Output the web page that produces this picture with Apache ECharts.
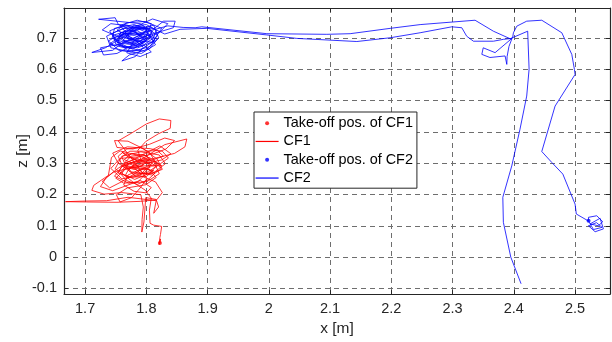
<!DOCTYPE html>
<html>
<head>
<meta charset="utf-8">
<script src="https://cdn.jsdelivr.net/npm/echarts@6/dist/echarts.min.js"></script>
<style>html,body{margin:0;padding:0;background:#fff}#c{width:612px;height:342px}</style>
</head>
<body>
<div id="c"></div>
<script>
// ---- data ----
const takeoffCF1 = [[1.822, 0.045]];
const takeoffCF2 = [[2.522, 0.116]];

const cf1Path = [
[1.822,0.045],[1.823,0.058],[1.821,0.040],[1.822,0.062],[1.823,0.072],[1.825,0.098],[1.812,0.102],[1.806,0.108],
[1.805,0.150],[1.808,0.188],[1.798,0.214],[1.779,0.238],[1.760,0.268],[1.772,0.300],[1.799,0.312],[1.816,0.290],
[1.801,0.258],[1.770,0.254],[1.749,0.282],[1.760,0.322],[1.791,0.336],[1.821,0.326],[1.831,0.298],[1.811,0.268],
[1.779,0.266],[1.754,0.300],[1.745,0.332],[1.769,0.352],[1.806,0.346],[1.826,0.338],[1.836,0.316],[1.820,0.294],
[1.789,0.290],[1.764,0.311],[1.776,0.331],[1.801,0.323],[1.810,0.300],[1.789,0.276],[1.760,0.241],[1.740,0.221],
[1.728,0.242],[1.746,0.271],[1.776,0.286],[1.804,0.281],[1.816,0.254],[1.799,0.231],[1.769,0.221],[1.751,0.199],
[1.757,0.176],[1.776,0.190],[1.790,0.221],[1.801,0.251],[1.781,0.301],[1.754,0.371],[1.776,0.396],[1.800,0.425],
[1.821,0.441],[1.840,0.436],[1.839,0.411],[1.820,0.394],[1.799,0.369],[1.786,0.341],[1.791,0.311],[1.830,0.359],
[1.866,0.377],[1.863,0.352],[1.846,0.331],[1.815,0.316],[1.786,0.306],[1.761,0.291],[1.748,0.258],[1.771,0.236],
[1.801,0.241],[1.821,0.266],[1.812,0.306],[1.784,0.326],[1.757,0.339],[1.743,0.318],[1.738,0.261],[1.714,0.229],
[1.711,0.213],[1.731,0.201],[1.760,0.206],[1.791,0.199],[1.795,0.160],[1.793,0.120],[1.7926,0.080],[1.796,0.112],
[1.799,0.190],[1.816,0.184],[1.820,0.160],[1.812,0.140],[1.816,0.180],[1.770,0.191],[1.735,0.180],[1.700,0.179],
[1.668,0.177],[1.702,0.176],[1.752,0.175],[1.790,0.178],[1.817,0.183],[1.826,0.206],[1.815,0.240],[1.790,0.260],
[1.760,0.250],[1.742,0.283],[1.757,0.315],[1.788,0.320],[1.812,0.330],[1.832,0.345],[1.846,0.372],[1.830,0.380],
[1.805,0.360],[1.778,0.345],[1.752,0.350],[1.748,0.372],[1.770,0.370],[1.795,0.346],[1.818,0.312],[1.826,0.280],
[1.805,0.265],[1.776,0.272],[1.762,0.298],[1.785,0.315],[1.808,0.295],[1.797,0.270],[1.773,0.256],[1.754,0.268],
[1.760,0.290],[1.780,0.280],[1.795,0.294],[1.776,0.318],[1.760,0.335],[1.770,0.320],[1.800,0.300],[1.825,0.310],
[1.840,0.330],[1.822,0.355],[1.797,0.330],[1.772,0.305],[1.755,0.285],[1.735,0.255],[1.725,0.225],[1.745,0.212],
[1.770,0.230],[1.790,0.245],[1.808,0.222],[1.800,0.205],[1.780,0.210],[1.763,0.230],[1.770,0.262],[1.792,0.282],
[1.812,0.276],[1.798,0.262],[1.781,0.248],[1.766,0.262],[1.772,0.284],[1.793,0.292],[1.806,0.312],[1.796,0.328],
[1.775,0.322],[1.765,0.302],[1.780,0.292],[1.799,0.285],[1.814,0.268],[1.802,0.246],[1.785,0.232],[1.768,0.244],
[1.757,0.268],[1.768,0.296],[1.786,0.310],[1.805,0.318],[1.818,0.300],[1.824,0.282],[1.810,0.262],[1.790,0.268],
[1.777,0.290],[1.789,0.306],[1.810,0.310],[1.828,0.322],[1.818,0.340],[1.795,0.338],[1.773,0.338],[1.760,0.320],
[1.766,0.292],[1.787,0.276],[1.806,0.286],[1.800,0.305],[1.781,0.300],[1.771,0.276],[1.783,0.258],[1.803,0.272],
[1.818,0.292],[1.805,0.335],[1.790,0.350],[1.768,0.345],[1.754,0.322],[1.760,0.295],[1.785,0.285],[1.797,0.262],
[1.786,0.240],[1.763,0.236],[1.750,0.252],[1.765,0.280],[1.792,0.298],[1.815,0.305],[1.825,0.292],[1.803,0.290],
[1.790,0.262]
];

const cf2Path = [
[2.522,0.116],[2.5218,0.127],[2.5354,0.132],[2.5452,0.113],[2.538,0.100],[2.5245,0.106],[2.5408,0.124],[2.5462,0.090],
[2.5327,0.081],[2.5218,0.100],[2.535,0.110],[2.544,0.095],[2.530,0.088],[2.522,0.115],[2.502,0.1376],[2.500,0.169],
[2.480,0.265],[2.462,0.302],[2.4456,0.337],[2.4673,0.482],[2.500,0.583],[2.4989,0.599],[2.4946,0.647],[2.4783,0.716],
[2.4456,0.756],[2.421,0.753],[2.4048,0.737],[2.3993,0.716],[2.398,0.700],
[2.3694,0.6525],[2.350,0.668],[2.3477,0.647],[2.361,0.637],[2.3857,0.642],[2.3885,0.615],[2.389,0.640],[2.392,0.672],[2.397,0.698],
[2.383,0.695],[2.3666,0.689],[2.334,0.689],[2.323,0.705],[2.315,0.732],[2.2987,0.735],[2.247,0.716],[2.198,0.700],
[2.1436,0.688],[2.0456,0.698],[1.9967,0.709],[1.8987,0.730],[1.855,0.727],
[1.830,0.712],[1.805,0.735],[1.772,0.718],[1.748,0.700],[1.760,0.672],[1.790,0.660],[1.812,0.690],[1.798,0.725],
[1.765,0.742],[1.740,0.722],[1.752,0.685],[1.783,0.676],[1.808,0.702],[1.795,0.738],[1.760,0.728],[1.735,0.705],
[1.742,0.668],[1.775,0.655],[1.806,0.672],[1.818,0.708],[1.790,0.745],[1.722,0.759],[1.749,0.764],[1.754,0.743],
[1.780,0.720],[1.800,0.690],[1.778,0.664],[1.750,0.680],[1.745,0.715],[1.770,0.735],[1.812,0.728],[1.828,0.753],
[1.847,0.753],[1.844,0.732],[1.815,0.715],[1.790,0.700],[1.765,0.690],[1.745,0.660],[1.711,0.653],[1.733,0.668],
[1.760,0.700],[1.785,0.728],[1.812,0.740],[1.820,0.700],[1.805,0.665],[1.772,0.645],[1.760,0.626],[1.782,0.640],
[1.795,0.670],[1.776,0.700],[1.752,0.724],[1.768,0.748],[1.798,0.752],[1.825,0.730],[1.810,0.686],[1.783,0.690],
[1.758,0.712],[1.738,0.690],[1.755,0.660],[1.792,0.650],[1.815,0.678],[1.802,0.712],[1.770,0.708],[1.757,0.740],
[1.785,0.756],[1.808,0.745],[1.800,0.705],[1.770,0.682],[1.744,0.698],[1.748,0.730],[1.780,0.742],[1.810,0.720],
[1.795,0.682],[1.765,0.668],[1.740,0.680],[1.762,0.712],[1.793,0.716],[1.818,0.695],[1.797,0.658],[1.768,0.660],
[1.752,0.696],[1.775,0.730],[1.806,0.728],[1.814,0.690],[1.786,0.668],[1.756,0.675],[1.746,0.708],[1.773,0.725],
[1.800,0.700],[1.788,0.672],[1.762,0.692],[1.782,0.735],[1.810,0.760],[1.835,0.745],[1.822,0.718],[1.796,0.695],
[1.773,0.672],[1.752,0.650],[1.730,0.645],[1.725,0.668],[1.758,0.680],[1.790,0.708],[1.770,0.738],[1.742,0.745],
[1.728,0.725],[1.752,0.705],[1.788,0.690],[1.808,0.655],[1.790,0.640],[1.768,0.652],[1.780,0.690],[1.800,0.722],
[1.792,0.712],[1.775,0.695],[1.760,0.705],[1.768,0.722],[1.788,0.728],[1.802,0.715],[1.796,0.696],[1.780,0.684],
[1.764,0.690],[1.756,0.712],[1.772,0.730],[1.794,0.734],[1.808,0.716],[1.804,0.694],[1.786,0.680],[1.768,0.684],
[1.756,0.698],[1.764,0.720],[1.786,0.722],[1.798,0.706],[1.790,0.688],[1.772,0.692],[1.766,0.712],[1.782,0.716],
[1.795,0.700],[1.782,0.695],[1.770,0.705],[1.778,0.738],[1.800,0.742],[1.816,0.725],[1.812,0.700],[1.795,0.676],
[1.772,0.668],[1.754,0.686],[1.758,0.718],[1.780,0.708],
[1.835,0.738],[1.860,0.733],[1.8796,0.732],
[1.8905,0.735],[1.9967,0.713],[2.0946,0.711],[2.1327,0.713],[2.198,0.730],[2.247,0.742],[2.3367,0.756],[2.3666,0.721],
[2.3939,0.697],[2.4226,0.721],[2.4249,0.600],[2.421,0.514],[2.410,0.408],[2.3966,0.291],[2.382,0.191],[2.3829,0.111],
[2.395,0.0],[2.4118,-0.085]
];

const seriesNames = ['Take-off pos. of CF1', 'CF1', 'Take-off pos. of CF2', 'CF2'];
const xLabel = 'x [m]';
const yLabel = 'z [m]';
const xRange = [1.6655, 2.557];
const yRange = [-0.118, 0.795];

// ---- chart ----
const FONT = '"Liberation Sans", Arial, Helvetica, sans-serif';
const AX = '#262626';
const RED = '#ff0000';
const BLUE = '#0000ff';
const chart = echarts.init(document.getElementById('c'), null, {renderer: 'canvas'});

function axisCommon(showLabels) {
  return {
    type: 'value',
    splitNumber: 9,
    minInterval: 0.1,
    maxInterval: 0.1,
    axisLine: {show: true, onZero: false, lineStyle: {color: AX, width: 1.2}},
    axisTick: {show: true, inside: true, length: 4, lineStyle: {color: AX, width: 1}},
    axisLabel: {show: showLabels, color: AX, fontSize: 14.5, fontFamily: FONT, margin: 7,
                showMinLabel: false, showMaxLabel: false},
    splitLine: {show: false}
  };
}

const xBottom = Object.assign(axisCommon(true), {
  position: 'bottom', min: xRange[0], max: xRange[1],
  name: xLabel, nameLocation: 'middle', nameGap: 23,
  nameTextStyle: {color: AX, fontSize: 15.5, fontFamily: FONT},
  splitLine: {show: true, lineStyle: {color: '#6e6e6e', width: 1, type: [5, 4]}}
});
const xTop = Object.assign(axisCommon(false), {position: 'top', min: xRange[0], max: xRange[1]});
const yLeft = Object.assign(axisCommon(true), {
  position: 'left', min: yRange[0], max: yRange[1],
  name: yLabel, nameLocation: 'middle', nameGap: 33, nameRotate: 90, nameMoveOverlap: false,
  nameTextStyle: {color: AX, fontSize: 15.5, fontFamily: FONT},
  splitLine: {show: true, lineStyle: {color: '#6e6e6e', width: 1, type: [5, 4]}}
});
const yRight = Object.assign(axisCommon(false), {position: 'right', min: yRange[0], max: yRange[1]});

chart.setOption({
  animation: false,
  backgroundColor: '#fff',
  grid: {left: 64, right: 2, top: 8, bottom: 46, containLabel: false},
  xAxis: [xBottom, xTop],
  yAxis: [yLeft, yRight],
  legend: {
    orient: 'vertical', left: 254, top: 112,
    padding: [2, 4, 1, 1], itemGap: 0, itemWidth: 23, itemHeight: 4,
    borderColor: AX, borderWidth: 1, backgroundColor: '#fff',
    lineStyle: {width: 1.2},
    textStyle: {fontSize: 14.4, color: '#000', fontFamily: FONT, lineHeight: 18.3},
    data: [
      {name: seriesNames[0], icon: 'circle'},
      {name: seriesNames[1], itemStyle: {color: RED, opacity: 0}},
      {name: seriesNames[2], icon: 'circle'},
      {name: seriesNames[3], itemStyle: {color: BLUE, opacity: 0}}
    ],
    z: 10
  },
  series: [
    {name: seriesNames[1], type: 'line', data: cf1Path, symbol: 'none', showSymbol: false,
     color: RED, lineStyle: {color: RED, width: 0.8}, itemStyle: {color: RED}, z: 3},
    {name: seriesNames[3], type: 'line', data: cf2Path, symbol: 'none', showSymbol: false,
     color: BLUE, lineStyle: {color: BLUE, width: 0.8}, itemStyle: {color: BLUE}, z: 3},
    {name: seriesNames[0], type: 'scatter', data: takeoffCF1, symbol: 'circle', symbolSize: 4,
     itemStyle: {color: RED}, z: 4},
    {name: seriesNames[2], type: 'scatter', data: takeoffCF2, symbol: 'circle', symbolSize: 4,
     itemStyle: {color: BLUE}, z: 4}
  ]
});
</script>
</body>
</html>
